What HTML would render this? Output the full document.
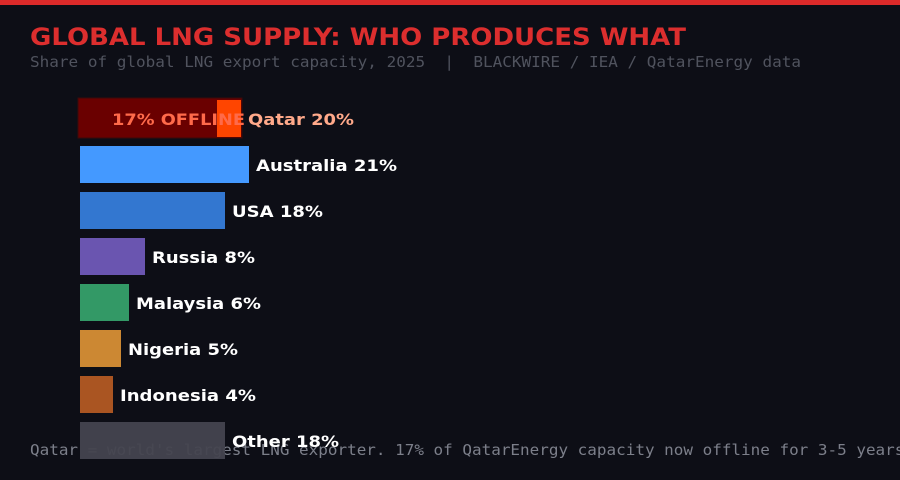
<!DOCTYPE html>
<html><head><meta charset="utf-8"><style>
body{margin:0;background:#0d0e16;}
svg{display:block}
</style></head><body>
<svg width="900" height="480" xmlns="http://www.w3.org/2000/svg">
<rect width="900" height="480" fill="#0d0e16"/>
<rect width="900" height="5" fill="#dc2a2a"/>
<text x="30" y="45" font-family="DejaVu Sans, sans-serif" font-weight="bold" font-size="24" fill="#dc2e2e" textLength="656" lengthAdjust="spacingAndGlyphs">GLOBAL LNG SUPPLY: WHO PRODUCES WHAT</text>
<text x="30" y="67" font-family="DejaVu Sans Mono, Liberation Mono, monospace" font-size="15" fill="#50535e" xml:space="preserve" textLength="771" lengthAdjust="spacingAndGlyphs">Share of global LNG export capacity, 2025  |  BLACKWIRE / IEA / QatarEnergy data</text>
<text x="30" y="455" font-family="DejaVu Sans Mono, Liberation Mono, monospace" font-size="15" fill="#7c7f8a" textLength="884" lengthAdjust="spacingAndGlyphs">Qatar = world's largest LNG exporter. 17% of QatarEnergy capacity now offline for 3-5 years.</text>
<g font-family="DejaVu Sans, sans-serif" font-weight="bold" font-size="16" fill="#ffffff" lengthAdjust="spacingAndGlyphs">
<rect x="78" y="98" width="164" height="40" fill="#6a0000" stroke="#3a0a0a" stroke-width="1"/>
<rect x="217" y="100" width="24" height="37" fill="#ff4500"/>
<text x="112" y="125" fill="#ff6a4a" textLength="133" lengthAdjust="spacingAndGlyphs">17% OFFLINE</text>
<text x="248" y="125" fill="#ffa98a" textLength="106" lengthAdjust="spacingAndGlyphs">Qatar 20%</text>
<rect x="80" y="146" width="169" height="37" fill="#4499ff"/>
<text x="256" y="171" textLength="141" lengthAdjust="spacingAndGlyphs">Australia 21%</text>
<rect x="80" y="192" width="145" height="37" fill="#3377d0"/>
<text x="232" y="217" textLength="91" lengthAdjust="spacingAndGlyphs">USA 18%</text>
<rect x="80" y="238" width="65" height="37" fill="#6a55b0"/>
<text x="152" y="263" textLength="103" lengthAdjust="spacingAndGlyphs">Russia 8%</text>
<rect x="80" y="284" width="49" height="37" fill="#339966"/>
<text x="136" y="309" textLength="125" lengthAdjust="spacingAndGlyphs">Malaysia 6%</text>
<rect x="80" y="330" width="41" height="37" fill="#cc8833"/>
<text x="128" y="355" textLength="110" lengthAdjust="spacingAndGlyphs">Nigeria 5%</text>
<rect x="80" y="376" width="33" height="37" fill="#aa5522"/>
<text x="120" y="401" textLength="136" lengthAdjust="spacingAndGlyphs">Indonesia 4%</text>
<rect x="80" y="422" width="145" height="37" fill="#44444f" opacity="0.95"/>
<text x="232" y="447" textLength="107" lengthAdjust="spacingAndGlyphs">Other 18%</text>
</g>
</svg>
</body></html>
